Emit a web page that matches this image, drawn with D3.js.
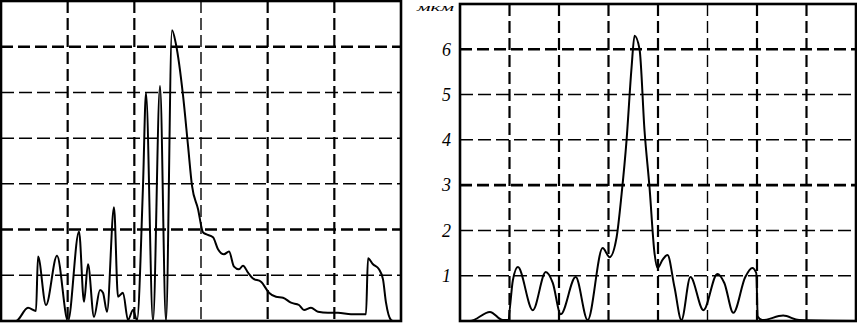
<!DOCTYPE html>
<html>
<head>
<meta charset="utf-8">
<script src="https://d3js.org/d3.v7.min.js"></script>
<style>
body { margin: 0; background: #fff; }
svg { display: block; }
</style>
</head>
<body>
<script>
//Width and height
var w = 857;
var h = 323;

// left panel: profile (position, height in um)
var leftX = [0, 15, 27, 35, 37, 45, 56, 67, 78, 83, 87, 93, 99, 102, 106, 113, 117, 122, 127, 132, 136,
             142, 145, 152, 159, 165, 171, 175, 182, 187, 191, 197, 202, 205, 212, 217, 223, 228, 233,
             238, 242, 247, 252, 260, 268, 275, 282, 290, 298, 303, 310, 317, 327, 337, 350, 365, 367,
             372, 378, 382, 385, 390, 392, 400];
var leftY = [0, 0, 0.29, 0.22, 1.41, 0.35, 1.43, 0, 1.96, 0.42, 1.24, 0.09, 0.68, 0.62, 0.2, 2.49, 0.53,
             0.62, 0.02, 0.24, 0.02, 2.96, 4.99, 0, 5.14, 0, 6.36, 6.05, 4.94, 3.84, 2.96, 2.45, 1.94,
             1.9, 1.83, 1.57, 1.46, 1.52, 1.19, 1.13, 1.21, 1.06, 0.93, 0.86, 0.62, 0.53, 0.51, 0.4, 0.35,
             0.24, 0.29, 0.2, 0.18, 0.18, 0.15, 0.15, 1.37, 1.24, 1.13, 0.91, 0.4, 0.02, 0, 0];

// right panel: smoothed profile
var rightX = [0, 10, 30, 43, 48, 53, 58, 73, 86, 93, 101, 116, 128, 143, 150, 157, 162, 167, 172, 175,
              180, 185, 190, 195, 198, 203, 208, 215, 222, 231, 244, 258, 265, 274, 286, 293, 297, 298.5,
              303, 324, 340, 397];
var rightY = [0, 0, 0.2, 0.02, 0.02, 0.9, 1.19, 0.24, 1.08, 0.84, 0.15, 0.97, 0.02, 1.61, 1.41, 1.85,
              2.8, 4.0, 5.6, 6.3, 6.0, 4.2, 2.95, 1.5, 1.17, 1.35, 1.46, 0.75, 0.02, 0.97, 0.24, 1.04,
              0.84, 0.18, 0.97, 1.17, 1.06, 0.1, 0.02, 0.12, 0.02, 0];

var yTicks = [1, 2, 3, 4, 5, 6];
var yTickLabels = ["1", "2", "3", "4", "5", "6"];
var thickRowsLeft = [2, 6];
var thickRowsRight = [3, 6];
var unitLabel = "мкм";

var svg = d3.select("body")
            .append("svg")
            .attr("width", w)
            .attr("height", h);

/****Scales****/
var xL = d3.scaleLinear().domain([0, 400]).range([1, 401]);
var yL = d3.scaleLinear().domain([0, 7]).range([321, 1]);
var xR = d3.scaleLinear().domain([0, 397]).range([460, 856]);
var yR = d3.scaleLinear().domain([0, 7]).range([321, 4]);

var drawPanel = function(name, xs, ys, xv, yv, nCols, thickRows, thinCols, curve)
{
  var g = svg.append("g").attr("class", name);
  var x0 = xs.range()[0], x1 = xs.range()[1];
  var yb = ys.range()[0], yt = ys.range()[1];
  var dom = xs.domain()[1];

  g.append("clipPath").attr("id", "clip-" + name)
   .append("rect")
   .attr("x", x0).attr("y", yt)
   .attr("width", x1 - x0).attr("height", yb - yt);

  // horizontal grid
  g.selectAll("line.hgrid")
   .data(yTicks)
   .enter()
   .append("line")
   .attr("class", "hgrid")
   .attr("x1", x0).attr("x2", x1)
   .attr("y1", function(d){ return ys(d); })
   .attr("y2", function(d){ return ys(d); })
   .attr("stroke", "#000")
   .attr("stroke-width", function(d){ return thickRows.indexOf(d) >= 0 ? 2.6 : 1.5; })
   .attr("stroke-dasharray", function(d){ return thickRows.indexOf(d) >= 0 ? "12,5" : "13,5"; });

  // vertical grid
  var cols = d3.range(1, nCols).map(function(i){ return i * dom / nCols; });
  g.selectAll("line.vgrid")
   .data(cols)
   .enter()
   .append("line")
   .attr("class", "vgrid")
   .attr("y1", yt).attr("y2", yb)
   .attr("x1", function(d){ return xs(d); })
   .attr("x2", function(d){ return xs(d); })
   .attr("stroke", "#000")
   .attr("stroke-width", function(d, i){ return thinCols.indexOf(i) >= 0 ? 1.4 : 2.2; })
   .attr("stroke-dasharray", "12,5");

  // profile
  var pts = xv.map(function(d, i){ return [d, yv[i]]; });
  var line = d3.line()
               .x(function(d){ return xs(d[0]); })
               .y(function(d){ return ys(d[1]); })
               .curve(curve);
  g.append("path")
   .datum(pts)
   .attr("clip-path", "url(#clip-" + name + ")")
   .attr("d", line)
   .attr("fill", "none")
   .attr("stroke", "#000")
   .attr("stroke-width", 2)
   .attr("stroke-linejoin", "round");

  // frame
  g.append("rect")
   .attr("x", x0).attr("y", yt)
   .attr("width", x1 - x0).attr("height", yb - yt)
   .attr("fill", "none")
   .attr("stroke", "#000")
   .attr("stroke-width", 2.6);
  return g;
}

drawPanel("left", xL, yL, leftX, leftY, 6, thickRowsLeft, [2], d3.curveMonotoneX);
drawPanel("right", xR, yR, rightX, rightY, 8, thickRowsRight, [4], d3.curveMonotoneX);

/****Axis labels (right panel)****/
var yAxis = d3.axisLeft()
              .scale(yR)
              .tickValues(yTicks)
              .tickSize(0)
              .tickPadding(9)
              .tickFormat(function(d, i){ return yTickLabels[i]; });
var ax = svg.append("g")
            .attr("class", "axis")
            .attr("transform", "translate(460,0)")
            .call(yAxis);
ax.select(".domain").remove();
ax.selectAll("text")
  .attr("font-family", "'Liberation Serif', 'DejaVu Serif', serif")
  .attr("font-style", "italic")
  .attr("font-size", "18px")
  .attr("fill", "#000");

svg.append("text")
   .text(unitLabel)
   .attr("x", 417)
   .attr("y", 11)
   .attr("textLength", 37)
   .attr("lengthAdjust", "spacingAndGlyphs")
   .attr("font-family", "'Liberation Serif', serif")
   .attr("font-style", "italic")
   .attr("font-size", "11px")
   .attr("fill", "#000");
</script>
</body>
</html>
